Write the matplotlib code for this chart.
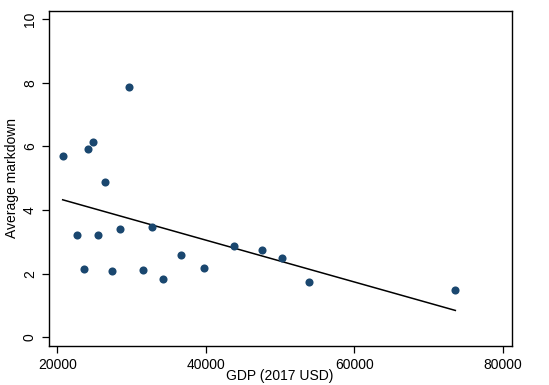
import numpy as np
import matplotlib
matplotlib.use("Agg")
import matplotlib.pyplot as plt

plt.rcParams['font.family'] = ['Liberation Sans', 'DejaVu Sans']

gdp = [20700, 22600, 23550, 24090, 24720, 25520, 26380, 27370, 28400, 29610,
       31540, 32800, 34190, 36660, 39720, 43850, 47620, 50270, 53860, 73620]
markdown = [5.71, 3.22, 2.15, 5.92, 6.15, 3.20, 4.87, 2.08, 3.41, 7.88,
            2.10, 3.47, 1.84, 2.59, 2.16, 2.88, 2.75, 2.48, 1.72, 1.47]
fit_intercept = 5.683
fit_slope = -6.578e-5
xticks = [20000, 40000, 60000, 80000]
yticks = [0, 2, 4, 6, 8, 10]

fig = plt.figure(figsize=(5.49, 3.85), dpi=100)
ax = fig.add_axes([0.0887, 0.102, 0.932 - 0.0887, 0.9714 - 0.102])

x = np.array(gdp, dtype=float)
y = np.array(markdown, dtype=float)
ax.scatter(x, y, s=34, color='#1a476f', zorder=3, linewidths=0)
xs = np.array([x.min(), x.max()])
ax.plot(xs, fit_intercept + fit_slope * xs, color='black', lw=1.1, zorder=2)

ax.set_xlim(18815, 81212)
ax.set_ylim(-0.27, 10.26)
ax.set_xticks(xticks)
ax.set_yticks(yticks)
ax.set_xticklabels([str(t) for t in xticks], fontsize=10)
ax.set_yticklabels([str(t) for t in yticks], fontsize=10, rotation=90, va='center')
ax.tick_params(direction='out', length=5, width=0.9, colors='black')
for sp in ax.spines.values():
    sp.set_linewidth(1.0)
    sp.set_color('black')
ax.set_xlabel('GDP (2017 USD)', fontsize=10, labelpad=-1.5)
ax.set_ylabel('Average markdown', fontsize=10, labelpad=3)

fig.savefig('out.png', dpi=100)
